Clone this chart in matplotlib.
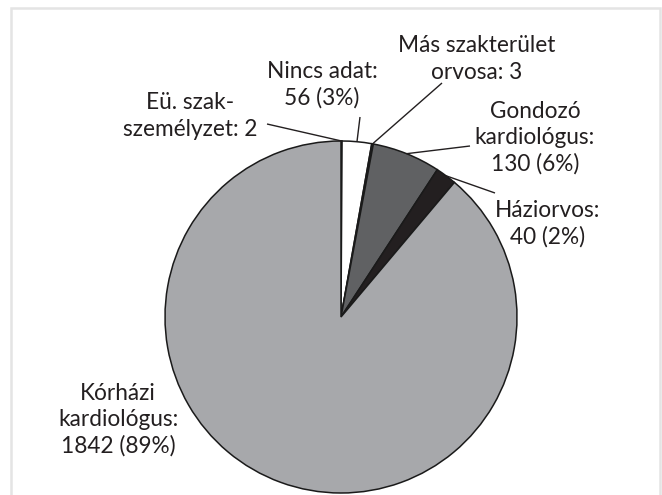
import numpy as np
import matplotlib
matplotlib.use("Agg")
import matplotlib.pyplot as plt
from matplotlib.patches import Rectangle

# Data
categories = ["Eü. szak-\nszemélyzet: 2", "Nincs adat:\n56 (3%)", "Más szakterület\norvosa: 3",
              "Gondozó\nkardiológus:\n130 (6%)", "Háziorvos:\n40 (2%)",
              "Kórházi\nkardiológus:\n1842 (89%)"]
values = [2, 56, 3, 130, 40, 1842]
colors = ["#ffffff", "#ffffff", "#5f6062", "#606163", "#231f20", "#a7a8ab"]

W, H = 662, 495
fig = plt.figure(figsize=(W / 100, H / 100), dpi=100)
ax = fig.add_axes([0, 0, 1, 1])

cx, cy, R = 341, H - 317, 176
wedges, _ = ax.pie(values, colors=colors, startangle=90, counterclock=False,
                   center=(cx, cy), radius=R,
                   wedgeprops=dict(edgecolor="#1a1a1a", linewidth=1.1))
ax.set_xlim(0, W)
ax.set_ylim(0, H)
ax.set_aspect("auto")
ax.axis("off")

# label layout (text centre in pixels from top, leader end point or None)
text_pos = [(190, 116), (322, 85), (477, 59), (535, 138), (548, 224), (118, 420)]
leader_end = [(267, 124), (360, 117), (442, 83), (470, 146), (495, 193), None]

font = dict(family=["Lato", "DejaVu Sans"], fontsize=16.3, fontweight="normal",
            color="#231f20")
for w, lab, (tx, ty), le in zip(wedges, categories, text_pos, leader_end):
    ax.text(tx, H - ty, lab, ha="center", va="center", linespacing=1.3, **font)
    if le is not None:
        mid = np.deg2rad((w.theta1 + w.theta2) / 2)
        px, py = cx + R * np.cos(mid), cy + R * np.sin(mid)
        ax.plot([le[0], px], [H - le[1], py], color="#231f20", lw=1.0,
                solid_capstyle="butt")

# light frame
fig.patches.append(Rectangle((11 / W, -0.05), (660 - 11) / W, (H - 8) / H + 0.05,
                             transform=fig.transFigure, fill=False,
                             edgecolor="#e4e4e4", lw=1.8))

fig.savefig("out.png", dpi=100, facecolor="white")
